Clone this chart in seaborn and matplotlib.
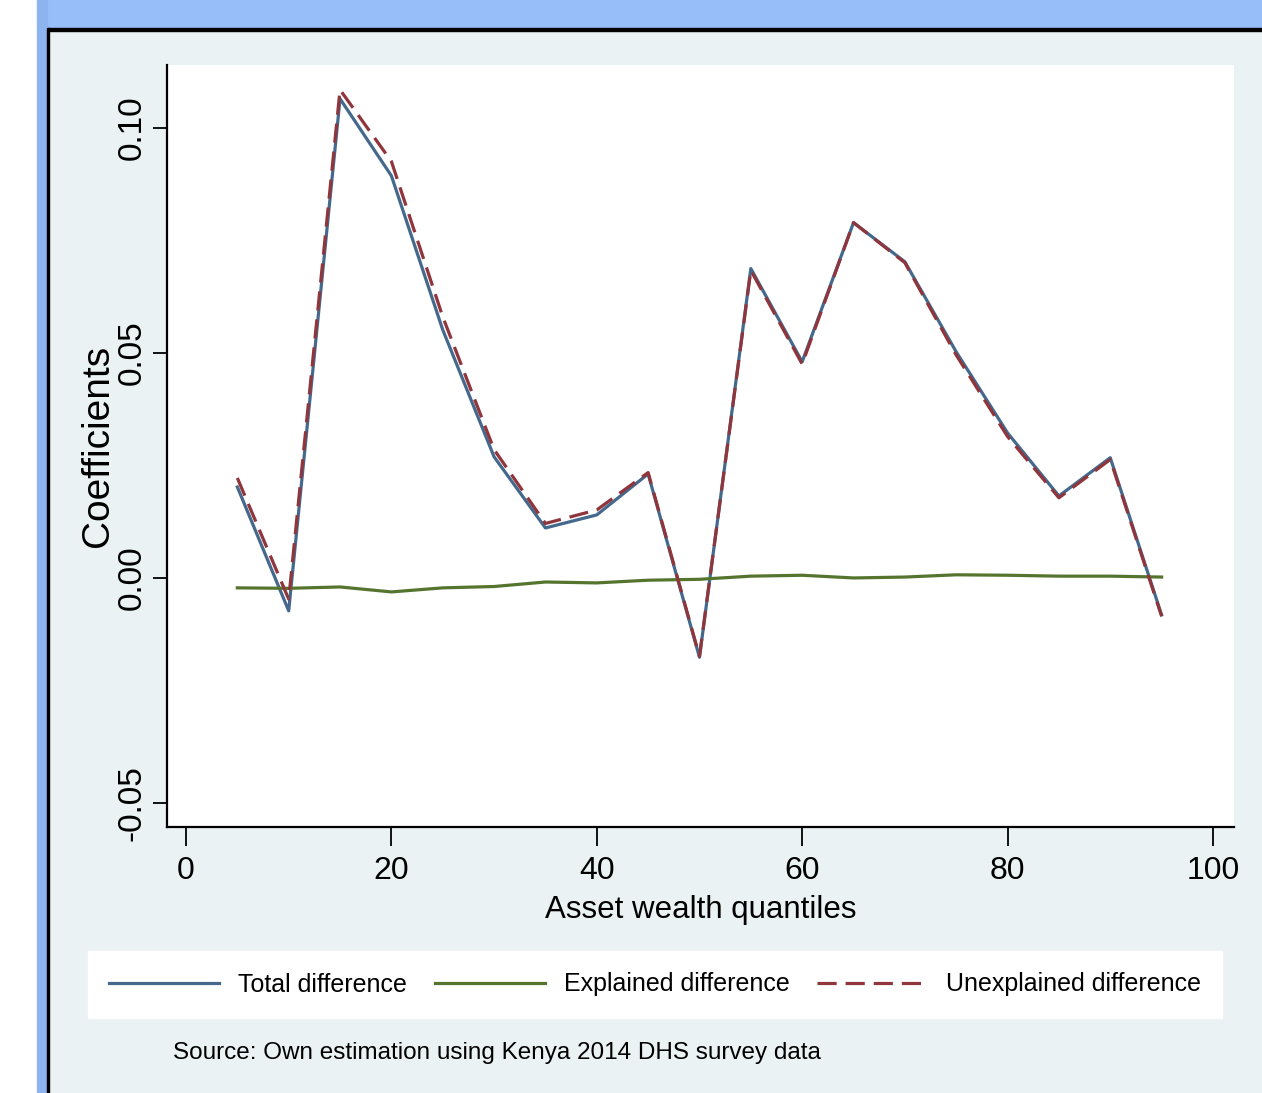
import seaborn as sns
import pandas as pd
import matplotlib.pyplot as plt
from matplotlib.patches import Rectangle

# values
quantiles = [5, 10, 15, 20, 25, 30, 35, 40, 45, 50, 55, 60, 65, 70, 75, 80, 85, 90, 95]
total_diff = [0.0202, -0.0073, 0.1064, 0.0893, 0.0551, 0.0269, 0.0111, 0.0140, 0.0231, -0.0176,
              0.0687, 0.0480, 0.0789, 0.0702, 0.0502, 0.0322, 0.0182, 0.0267, -0.0082]
explained_diff = [-0.0022, -0.0023, -0.0020, -0.0031, -0.0022, -0.0019, -0.0009, -0.0011, -0.0005, -0.0003,
                  0.0004, 0.0006, 0.0000, 0.0002, 0.0007, 0.0006, 0.0004, 0.0004, 0.0002]
unexplained_diff = [0.0222, -0.0047, 0.1084, 0.0925, 0.0580, 0.0285, 0.0121, 0.0151, 0.0234, -0.0174,
                    0.0683, 0.0475, 0.0789, 0.0700, 0.0495, 0.0314, 0.0178, 0.0263, -0.0085]

xticks = [0, 20, 40, 60, 80, 100]
yticks = [-0.05, 0.00, 0.05, 0.10]
ytick_labels = ["-0.05", "0.00", "0.05", "0.10"]

df = pd.DataFrame({"q": quantiles, "total": total_diff,
                   "explained": explained_diff, "unexplained": unexplained_diff})

plt.rcParams["axes.unicode_minus"] = False
font = ["Liberation Sans", "DejaVu Sans"]

bg = "#EAF2F3"
fig = plt.figure(figsize=(12.62, 10.93), dpi=100, facecolor=bg)

# window chrome around the graph
fig.patches.append(Rectangle((0, 1 - 28 / 1093), 1, 28 / 1093, transform=fig.transFigure,
                             color="#97BEF8", zorder=0))
fig.patches.append(Rectangle((0, 1 - 30.5 / 1093), 1, 2.5 / 1093, transform=fig.transFigure,
                             color="black", zorder=1))
fig.patches.append(Rectangle((0, 0), 37 / 1262, 1, transform=fig.transFigure,
                             color="white", zorder=2))
fig.patches.append(Rectangle((37 / 1262, 0), 10 / 1262, 1, transform=fig.transFigure,
                             color="#8DB4EE", zorder=2))
fig.patches.append(Rectangle((47 / 1262, 0), 2 / 1262, 1 - 28 / 1093, transform=fig.transFigure,
                             color="black", zorder=2))

ax = fig.add_axes([167 / 1262, 1 - 827 / 1093, (1234 - 167) / 1262, (827 - 65) / 1093])
ax.set_facecolor("white")

sns.lineplot(data=df, x="q", y="total", ax=ax, color="#44698C", linewidth=2.3,
             label="Total difference")
sns.lineplot(data=df, x="q", y="explained", ax=ax, color="#55752F", linewidth=2.3,
             label="Explained difference")
sns.lineplot(data=df, x="q", y="unexplained", ax=ax, color="#90353B", linewidth=2.3,
             linestyle=(0, (6, 2.8)), label="Unexplained difference")

ax.set_xlim(-1.85, 102.05)
ax.set_ylim(-0.0553, 0.1139)
ax.set_xticks(xticks)
ax.set_yticks(yticks)
ax.set_yticklabels(ytick_labels, rotation=90, va="center", fontsize=24, family=font)
ax.set_xticklabels([str(t) for t in xticks], fontsize=23, family=font)
ax.tick_params(axis="x", length=14, width=1.3, pad=7, colors="black")
ax.tick_params(axis="y", length=10, width=1.3, pad=4, colors="black")

for s in ["top", "right"]:
    ax.spines[s].set_visible(False)
for s in ["left", "bottom"]:
    ax.spines[s].set_linewidth(1.6)
    ax.spines[s].set_color("black")

ax.set_xlabel("Asset wealth quantiles", fontsize=22.5, family=font)
ax.xaxis.set_label_coords(0.5, -(895 - 827) / 762)
ax.set_ylabel("Coefficients", fontsize=28, family=font)
ax.yaxis.set_label_coords(-(167 - 116) / 1067, 0.5)

handles, labels = ax.get_legend_handles_labels()
ax.get_legend().remove()
leg = fig.legend(handles, labels, ncol=3, loc="center",
                 bbox_to_anchor=(88 / 1262, 1 - 1020 / 1093, 1134 / 1262, 71 / 1093),
                 mode="expand", borderaxespad=0, borderpad=0.85, frameon=True,
                 fancybox=False, handlelength=4.4, handletextpad=0.76,
                 prop={"family": font, "size": 18})
leg.get_frame().set_facecolor("white")
leg.get_frame().set_edgecolor("white")
leg.get_frame().set_alpha(1)

fig.text(173 / 1262, 1 - 1053 / 1093, "Source: Own estimation using Kenya 2014 DHS survey data",
         fontsize=17.5, family=font, va="center", ha="left")

fig.savefig("out.png", dpi=100, facecolor=bg)
